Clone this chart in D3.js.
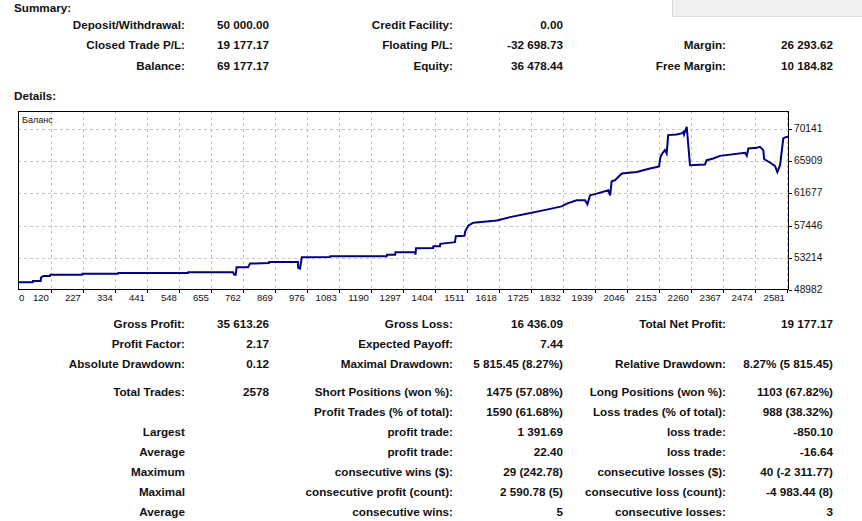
<!DOCTYPE html>
<html><head><meta charset="utf-8">
<script src="https://cdn.jsdelivr.net/npm/d3@7"></script>
<style>
html,body{margin:0;padding:0;background:#fff;}
svg{display:block;}
.t{font-family:"Liberation Sans",Arial,sans-serif;font-weight:bold;font-size:11.7px;fill:#111;}
.ax{font-family:"Liberation Sans Narrow","Liberation Sans",Arial,sans-serif;font-size:9.6px;fill:#111;}
</style></head>
<body>
<svg id="c" width="862" height="521"></svg>
<script>
// ---- data ----
const trades  = [0,59,60,86,87,95,117,118,224,225,344,345,578,579,729,733,738,741,779,786,849,850,946,947,953,959,1053,1054,1243,1244,1271,1272,1338,1339,1341,1398,1399,1421,1422,1471,1474,1503,1505,1516,1533,1611,1655,1711,1766,1828,1845,1878,1906,1914,1923,1945,1984,1990,1995,2006,2029,2079,2101,2123,2146,2154,2157,2162,2173,2179,2184,2212,2229,2235,2237,2246,2257,2307,2313,2335,2357,2441,2447,2452,2480,2491,2502,2505,2524,2541,2549,2558,2569,2575,2588];
const balance = [50000,50000,50170,50170,50606,50830,50830,50975,50975,51107,51107,51213,51213,51332,51332,51002,51002,51965,51965,52454,52520,52678,52678,51886,51794,53285,53312,53430,53430,53602,53602,53945,53945,53642,54473,54500,54737,54737,55054,55265,56057,56100,56678,57470,57826,58130,58565,59014,59450,59978,60334,60770,60770,60242,61430,61654,62090,61430,63278,63410,64294,64505,64730,64954,65165,65258,66274,66802,67370,66934,69350,69442,69574,69785,69442,70445,65390,65482,66050,66274,66617,67013,66617,67594,67674,67806,67370,66182,65746,65297,64505,65390,68914,69046,69177];
const xTickValues = [0,120,227,334,441,548,655,762,869,976,1083,1190,1297,1404,1511,1618,1725,1832,1939,2046,2153,2260,2367,2474,2581];
const yTickValues = [48982,53214,57446,61677,65909,70141];
const chartLabel = "Баланс";

const summaryRows = [
  ["Deposit/Withdrawal:","50 000.00","Credit Facility:","0.00","",""],
  ["Closed Trade P/L:","19 177.17","Floating P/L:","-32 698.73","Margin:","26 293.62"],
  ["Balance:","69 177.17","Equity:","36 478.44","Free Margin:","10 184.82"]
];
const detailRows = [
  ["Gross Profit:","35 613.26","Gross Loss:","16 436.09","Total Net Profit:","19 177.17"],
  ["Profit Factor:","2.17","Expected Payoff:","7.44","",""],
  ["Absolute Drawdown:","0.12","Maximal Drawdown:","5 815.45 (8.27%)","Relative Drawdown:","8.27% (5 815.45)"],
  ["Total Trades:","2578","Short Positions (won %):","1475 (57.08%)","Long Positions (won %):","1103 (67.82%)"],
  ["","","Profit Trades (% of total):","1590 (61.68%)","Loss trades (% of total):","988 (38.32%)"],
  ["Largest","","profit trade:","1 391.69","loss trade:","-850.10"],
  ["Average","","profit trade:","22.40","loss trade:","-16.64"],
  ["Maximum","","consecutive wins ($):","29 (242.78)","consecutive losses ($):","40 (-2 311.77)"],
  ["Maximal","","consecutive profit (count):","2 590.78 (5)","consecutive loss (count):","-4 983.44 (8)"],
  ["Average","","consecutive wins:","5","consecutive losses:","3"]
];

// ---- layout ----
const svg = d3.select("#c");
const colX = [185, 269, 453, 563, 726, 833];

// top-right grey box
svg.append("rect").attr("x",672.5).attr("y",-1).attr("width",200).attr("height",17.5)
  .attr("fill","#f0f0f0").attr("stroke","#d9d9d9");

svg.append("text").attr("class","t").attr("x",14).attr("y",11.5).text("Summary:");
svg.append("text").attr("class","t").attr("x",14).attr("y",100).text("Details:");

function drawRows(rows, yStart, yStep, extraGapAfter, gap){
  rows.forEach((r,i)=>{
    const cy = yStart + i*yStep + (extraGapAfter!=null && i>extraGapAfter ? gap : 0);
    r.forEach((s,j)=>{
      if(!s) return;
      svg.append("text").attr("class","t").attr("x",colX[j]).attr("y",cy+4.2)
        .attr("text-anchor","end").text(s);
    });
  });
}
drawRows(summaryRows, 25, 20.2);
drawRows(detailRows, 323.3, 20, 2, 8.4);

// ---- chart ----
const L=18, R=789, T=111, B=290;
const x = d3.scaleLinear().domain([10,2588]).range([L,R]);
const y = d3.scaleLinear().domain([48982,72517]).range([B,T]);

const g = svg.append("g");
g.append("clipPath").attr("id","clip").append("rect").attr("x",L).attr("y",T).attr("width",R-L).attr("height",B-T);

// grid
g.selectAll(".vg").data(xTickValues.filter(v=>v>0)).enter().append("line")
  .attr("x1",d=>Math.round(x(d))+0.5).attr("x2",d=>Math.round(x(d))+0.5)
  .attr("y1",T).attr("y2",B)
  .attr("stroke","#c4c4c4").attr("stroke-dasharray","3,3");
g.selectAll(".hg").data(yTickValues.filter(v=>v>yTickValues[0])).enter().append("line")
  .attr("y1",d=>Math.round(y(d))+0.5).attr("y2",d=>Math.round(y(d))+0.5)
  .attr("x1",L).attr("x2",R)
  .attr("stroke","#c4c4c4").attr("stroke-dasharray","3,3");

// frame
g.append("rect").attr("x",L+0.5).attr("y",T+0.5).attr("width",R-L-1).attr("height",B-T-1)
  .attr("fill","none").attr("stroke","#000").attr("stroke-width",1);

// ticks
g.selectAll(".xt").data(xTickValues.filter(v=>v>0)).enter().append("line")
  .attr("x1",d=>Math.round(x(d))+0.5).attr("x2",d=>Math.round(x(d))+0.5)
  .attr("y1",B).attr("y2",B+3).attr("stroke","#000");
g.selectAll(".yt").data(yTickValues).enter().append("line")
  .attr("y1",d=>Math.round(y(d))+0.5).attr("y2",d=>Math.round(y(d))+0.5)
  .attr("x1",R).attr("x2",R+3).attr("stroke","#000");

// tick labels
g.selectAll(".xl").data(xTickValues).enter().append("text").attr("class","ax")
  .attr("x",d=> d===0 ? L+1 : x(d)-2)
  .attr("text-anchor",d=> d===0 ? "start" : "end")
  .attr("y",B+10.8).text(d=>d);
g.selectAll(".yl").data(yTickValues).enter().append("text").attr("class","ax")
  .attr("x",R+5).attr("y",d=>y(d)+3)
  .style("font-size","10.2px").text(d=>d);

// series label
g.append("text").attr("class","ax").attr("x",L+4).attr("y",T+12).style("font-size","9px").text(chartLabel);

// balance line
const pts = trades.map((t,i)=>[t,balance[i]]);
const line = d3.line().x(d=>x(d[0])).y(d=>y(d[1]));
g.append("path").datum(pts).attr("clip-path","url(#clip)")
  .attr("d",line).attr("fill","none").attr("stroke","#000080")
  .attr("stroke-width",2).attr("stroke-linejoin","miter");
</script>
</body></html>
